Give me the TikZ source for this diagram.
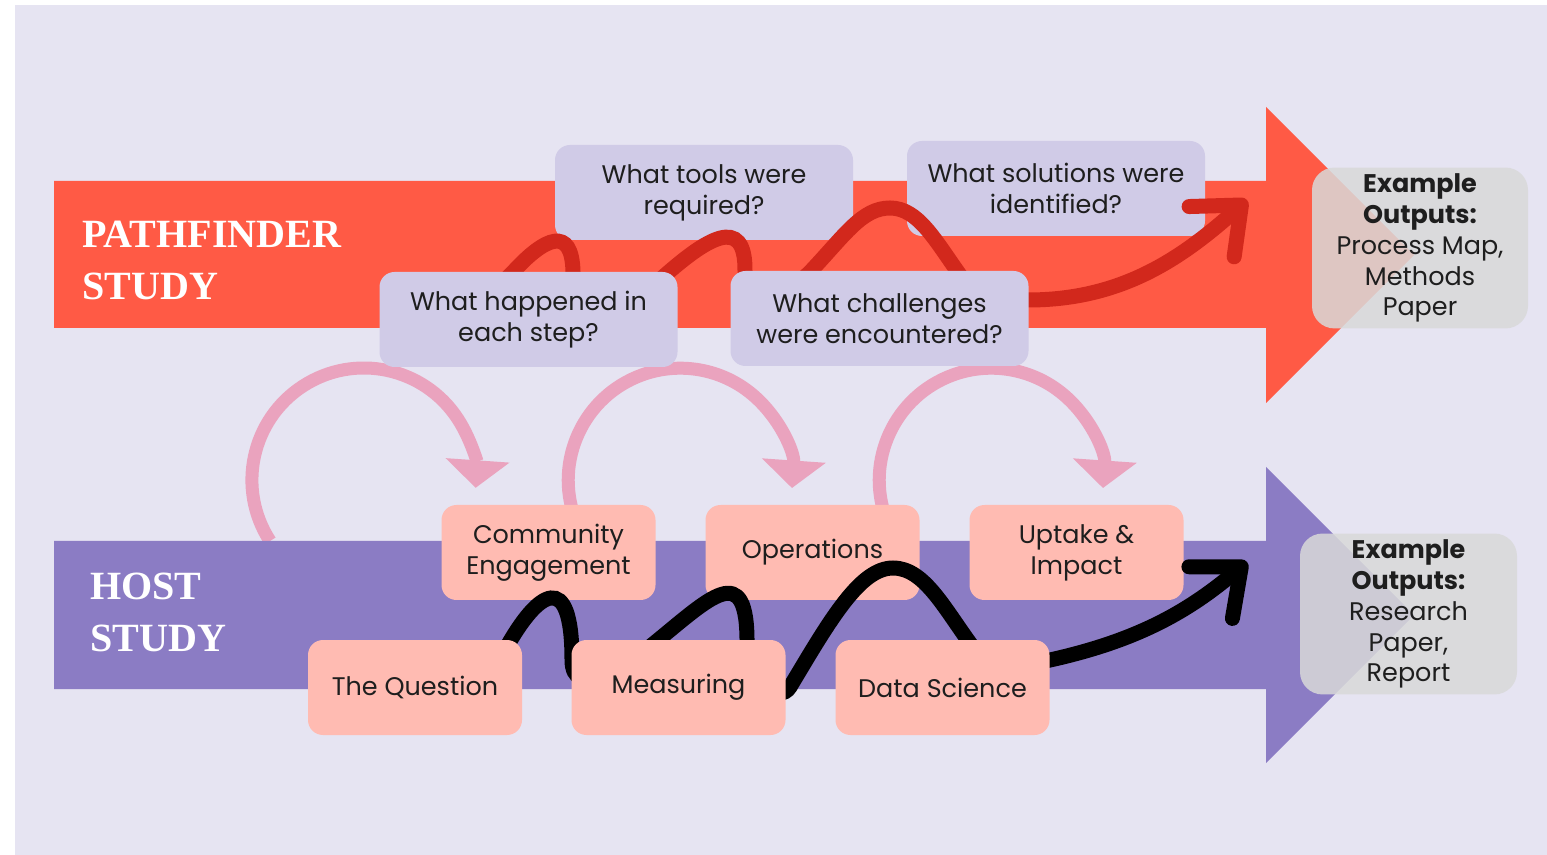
\documentclass[tikz,border=0pt]{standalone}
\usepackage{fontspec}
\setmainfont{Poppins}
\newfontfamily\bandfont{Liberation Serif}
\usetikzlibrary{arrows.meta}

\definecolor{backdrop}{HTML}{E6E4F2}
\definecolor{pathred}{HTML}{FF5A45}
\definecolor{hostpurple}{HTML}{8B7CC4}
\definecolor{qfill}{HTML}{D0CBE7}
\definecolor{stepfill}{HTML}{FFBBB2}
\definecolor{loopink}{HTML}{EAA3BE}
\definecolor{redwave}{HTML}{D2281C}
\definecolor{outgray}{HTML}{D9D9D9}
\definecolor{ink}{HTML}{1E1E1E}

\newcommand\boxfont{\fontsize{14.5}{17.6}\selectfont}

\begin{document}
\begin{tikzpicture}[
  qbox/.style={fill=qfill, rounded corners=0.3cm, minimum width=5.96cm, minimum height=1.9cm, align=center, text=ink, font=\boxfont},
  stepbox/.style={fill=stepfill, rounded corners=0.3cm, minimum width=4.28cm, minimum height=1.9cm, align=center, text=ink, font=\boxfont},
  outbox/.style={fill=outgray, fill opacity=0.85, text opacity=1, rounded corners=0.45cm, align=center, text=ink, font=\boxfont},
  bandlabel/.style={text=white, align=left, inner sep=0pt, font=\bandfont\bfseries\fontsize{22.8}{29.6}\selectfont},
  turnarrow/.style={draw=loopink, line width=0.26cm, -{Triangle[width=1.25cm,length=0.55cm]}},
  waveline/.style={line width=0.3cm, line cap=round, -{Straight Barb[length=0.8cm,width=1.35cm,round]}},
]
  \fill[white] (0,0) rectangle (30.94,-17.10);
  \useasboundingbox (0,0) rectangle (30.94,-17.10);
  \fill[backdrop] (0.30,-0.10) rectangle (30.94,-17.10);

  % pink loops between the two studies
  \draw[turnarrow] (5.40,-10.82) arc[start angle=213, end angle=-4, radius=2.24];
  \draw[turnarrow] (11.50,-10.37) arc[start angle=200, end angle=-4, radius=2.24];
  \draw[turnarrow] (17.72,-10.37) arc[start angle=200, end angle=-4, radius=2.24];

  % the two big arrows
  \fill[pathred] (1.08,-3.62) -- (25.32,-3.62) -- (25.32,-2.14) -- (28.28,-5.10)
    -- (25.32,-8.06) -- (25.32,-6.56) -- (1.08,-6.56) -- cycle;
  \fill[hostpurple] (1.08,-10.82) -- (25.32,-10.82) -- (25.32,-9.34) -- (28.28,-12.30)
    -- (25.32,-15.26) -- (25.32,-13.78) -- (1.08,-13.78) -- cycle;

  % upper row, under the waves
  \node[qbox] (tools) at (14.08,-3.85) {What tools were\\required?};
  \node[qbox] (solutions) at (21.12,-3.77) {What solutions were\\identified?};
  \node[stepbox] (community) at (10.97,-11.05) {Community\\Engagement};
  \node[stepbox] (operations) at (16.25,-11.05) {Operations};
  \node[stepbox] (uptake) at (21.53,-11.05) {Uptake \&\\Impact};

  \coordinate (redtip) at (24.94,-4.00);
  \coordinate (blacktip) at (24.94,-11.24);

  % the waves
  \draw[waveline, draw=redwave] (9.40,-6.20) .. controls (9.80,-5.90) and (10.06,-5.64) .. (10.26,-5.44)
    .. controls (10.90,-4.74) and (11.44,-4.50) .. (11.46,-5.44)
    .. controls (11.46,-6.10) and (12.84,-5.91) .. (13.26,-5.54)
    .. controls (14.10,-4.80) and (14.92,-4.24) .. (14.90,-5.44)
    .. controls (14.90,-6.00) and (15.80,-5.86) .. (16.20,-5.44)
    .. controls (16.90,-4.70) and (17.24,-4.16) .. (17.80,-4.16)
    .. controls (18.36,-4.16) and (18.70,-4.80) .. (19.20,-5.50)
    .. controls (19.50,-5.92) and (20.00,-6.00) .. (20.56,-6.00)
    .. controls (22.40,-6.00) and (23.60,-5.20) .. (redtip);
  \draw[waveline, draw=black] (9.40,-13.80) .. controls (9.70,-13.50) and (9.90,-13.34) .. (10.10,-13.00)
    .. controls (10.76,-11.80) and (11.44,-11.36) .. (11.44,-13.20)
    .. controls (11.44,-14.00) and (12.46,-13.37) .. (13.04,-12.90)
    .. controls (14.20,-11.96) and (14.96,-11.14) .. (14.94,-12.90)
    .. controls (14.92,-13.70) and (15.60,-14.08) .. (15.80,-13.74)
    .. controls (16.60,-12.40) and (17.20,-11.36) .. (17.86,-11.36)
    .. controls (18.50,-11.36) and (18.90,-12.20) .. (19.50,-13.00)
    .. controls (19.80,-13.40) and (20.20,-13.38) .. (21.00,-13.20)
    .. controls (22.80,-12.80) and (23.80,-12.20) .. (blacktip);

  % lower row, over the waves
  \node[qbox] (happened) at (10.57,-6.39) {What happened in\\each step?};
  \node[qbox] (challenges) at (17.59,-6.37) {What challenges\\were encountered?};
  \node[stepbox] (question) at (8.30,-13.75) {The Question};
  \node[stepbox] (measuring) at (13.57,-13.75) {Measuring};
  \node[stepbox] (datasci) at (18.85,-13.75) {Data Science};

  \node[bandlabel, anchor=west] (pathlabel) at (1.64,-5.20) {PATHFINDER\\STUDY};
  \node[bandlabel, anchor=west] (hostlabel) at (1.80,-12.25) {HOST\\STUDY};

  \node[outbox, minimum width=4.32cm, minimum height=3.2cm] (pathout) at (28.40,-4.96)
    {\textbf{Example}\\\textbf{Outputs:}\\Process Map,\\Methods\\Paper};
  \node[outbox, minimum width=4.34cm, minimum height=3.16cm] (hostout) at (28.17,-12.28)
    {\textbf{Example}\\\textbf{Outputs:}\\Research\\Paper,\\Report};
\end{tikzpicture}
\end{document}
